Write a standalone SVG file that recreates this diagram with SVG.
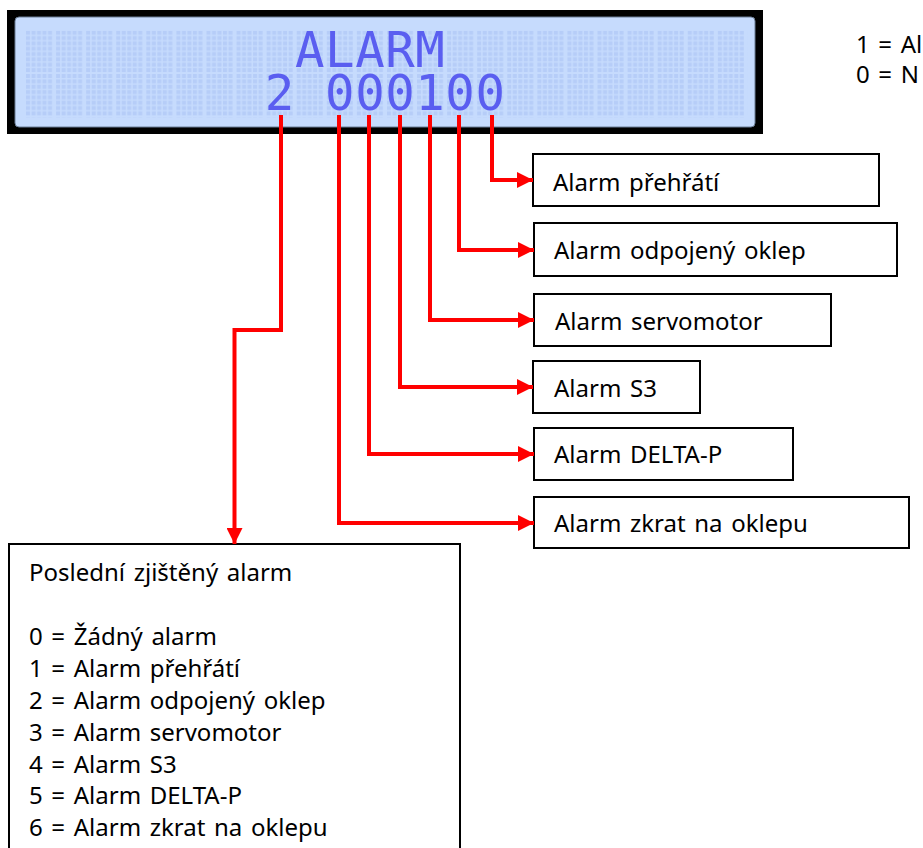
<svg xmlns="http://www.w3.org/2000/svg" width="923" height="848" viewBox="0 0 923 848">
<style>
.box{fill:#fff;stroke:#000;stroke-width:2}
.lbl{font-family:"Noto Sans","Open Sans","DejaVu Sans",sans-serif;font-size:24px;word-spacing:2.4px;fill:#000}
.lcd{font-family:"DejaVu Sans Mono","Liberation Mono",monospace;font-size:49px;fill:#5a5ef0;text-anchor:middle}
.wire{fill:none;stroke:#ff0000;stroke-width:4;stroke-linejoin:miter}
</style>
<defs>
<pattern id="cell" patternUnits="userSpaceOnUse" x="26" y="30.7" width="30.08" height="43.33">
<g fill="#b6cdf8">
<rect x="0" y="0" width="4" height="4"/><rect x="5.5" y="0" width="4" height="4"/><rect x="11" y="0" width="4" height="4"/><rect x="16.5" y="0" width="4" height="4"/><rect x="22" y="0" width="4" height="4"/>
<rect x="0" y="5.33" width="4" height="4"/><rect x="5.5" y="5.33" width="4" height="4"/><rect x="11" y="5.33" width="4" height="4"/><rect x="16.5" y="5.33" width="4" height="4"/><rect x="22" y="5.33" width="4" height="4"/>
<rect x="0" y="10.67" width="4" height="4"/><rect x="5.5" y="10.67" width="4" height="4"/><rect x="11" y="10.67" width="4" height="4"/><rect x="16.5" y="10.67" width="4" height="4"/><rect x="22" y="10.67" width="4" height="4"/>
<rect x="0" y="16" width="4" height="4"/><rect x="5.5" y="16" width="4" height="4"/><rect x="11" y="16" width="4" height="4"/><rect x="16.5" y="16" width="4" height="4"/><rect x="22" y="16" width="4" height="4"/>
<rect x="0" y="21.33" width="4" height="4"/><rect x="5.5" y="21.33" width="4" height="4"/><rect x="11" y="21.33" width="4" height="4"/><rect x="16.5" y="21.33" width="4" height="4"/><rect x="22" y="21.33" width="4" height="4"/>
<rect x="0" y="26.67" width="4" height="4"/><rect x="5.5" y="26.67" width="4" height="4"/><rect x="11" y="26.67" width="4" height="4"/><rect x="16.5" y="26.67" width="4" height="4"/><rect x="22" y="26.67" width="4" height="4"/>
<rect x="0" y="32" width="4" height="4"/><rect x="5.5" y="32" width="4" height="4"/><rect x="11" y="32" width="4" height="4"/><rect x="16.5" y="32" width="4" height="4"/><rect x="22" y="32" width="4" height="4"/>
<rect x="0" y="37.33" width="4" height="4"/><rect x="5.5" y="37.33" width="4" height="4"/><rect x="11" y="37.33" width="4" height="4"/><rect x="16.5" y="37.33" width="4" height="4"/><rect x="22" y="37.33" width="4" height="4"/>
</g>
</pattern>
<marker id="arr" markerUnits="userSpaceOnUse" markerWidth="17" markerHeight="16" refX="16" refY="8" orient="auto">
<path d="M0,0 L16,8 L0,16 Z" fill="#ff0000"/>
</marker>
</defs>
<rect width="923" height="848" fill="#fff"/>

<g id="lcd">
<rect x="7" y="10" width="756" height="124" fill="#000"/>
<rect x="15" y="17" width="740" height="110" rx="4" fill="#c6dbfd" stroke="#6b7d95" stroke-width="1"/>
<rect x="26" y="30.7" width="722" height="86.7" fill="url(#cell)"/>
<text class="lcd"><tspan x="309.7 339.8 369.9 400.0 430.0" y="66.7">ALARM</tspan><tspan x="279.6 339.8 369.9 400.0 430.0 460.1 490.2" y="110">2000100</tspan></text>
</g>

<g id="legend">
<text class="lbl" x="856" y="53.3">1 = Al</text>
<text class="lbl" x="856" y="83.3">0 = N</text>
</g>

<g id="n1"><rect class="box" x="533" y="154" width="346" height="52"/><text class="lbl" x="553" y="190.5">Alarm přehřátí</text></g>
<g id="n2"><rect class="box" x="534" y="223" width="363" height="53"/><text class="lbl" x="554" y="259">Alarm odpojený oklep</text></g>
<g id="n3"><rect class="box" x="534" y="294" width="297" height="52"/><text class="lbl" x="555" y="330">Alarm servomotor</text></g>
<g id="n4"><rect class="box" x="533" y="361" width="167" height="52"/><text class="lbl" x="554" y="396.7">Alarm S3</text></g>
<g id="n5"><rect class="box" x="534" y="428" width="259" height="52"/><text class="lbl" x="554" y="463">Alarm DELTA-P</text></g>
<g id="n6"><rect class="box" x="534" y="497" width="375" height="51"/><text class="lbl" x="554" y="532">Alarm zkrat na oklepu</text></g>

<g id="last">
<rect class="box" x="9" y="544" width="451" height="320"/>
<text class="lbl" x="29" y="581">Poslední zjištěný alarm</text>
<text class="lbl" x="29" y="645">0 = Žádný alarm</text>
<text class="lbl" x="29" y="677">1 = Alarm přehřátí</text>
<text class="lbl" x="29" y="709">2 = Alarm odpojený oklep</text>
<text class="lbl" x="29" y="741">3 = Alarm servomotor</text>
<text class="lbl" x="29" y="772.5">4 = Alarm S3</text>
<text class="lbl" x="29" y="804">5 = Alarm DELTA-P</text>
<text class="lbl" x="29" y="836">6 = Alarm zkrat na oklepu</text>
</g>

<g id="connectors">
<path class="wire" d="M492,115 V180 H533" marker-end="url(#arr)"/>
<path class="wire" d="M459,115 V250 H534" marker-end="url(#arr)"/>
<path class="wire" d="M430,115 V320 H534" marker-end="url(#arr)"/>
<path class="wire" d="M400,115 V387 H533" marker-end="url(#arr)"/>
<path class="wire" d="M369,115 V454 H534" marker-end="url(#arr)"/>
<path class="wire" d="M339,115 V523 H534" marker-end="url(#arr)"/>
<path class="wire" d="M281,115 V330 H234.5 V544" marker-end="url(#arr)"/>
</g>
</svg>
